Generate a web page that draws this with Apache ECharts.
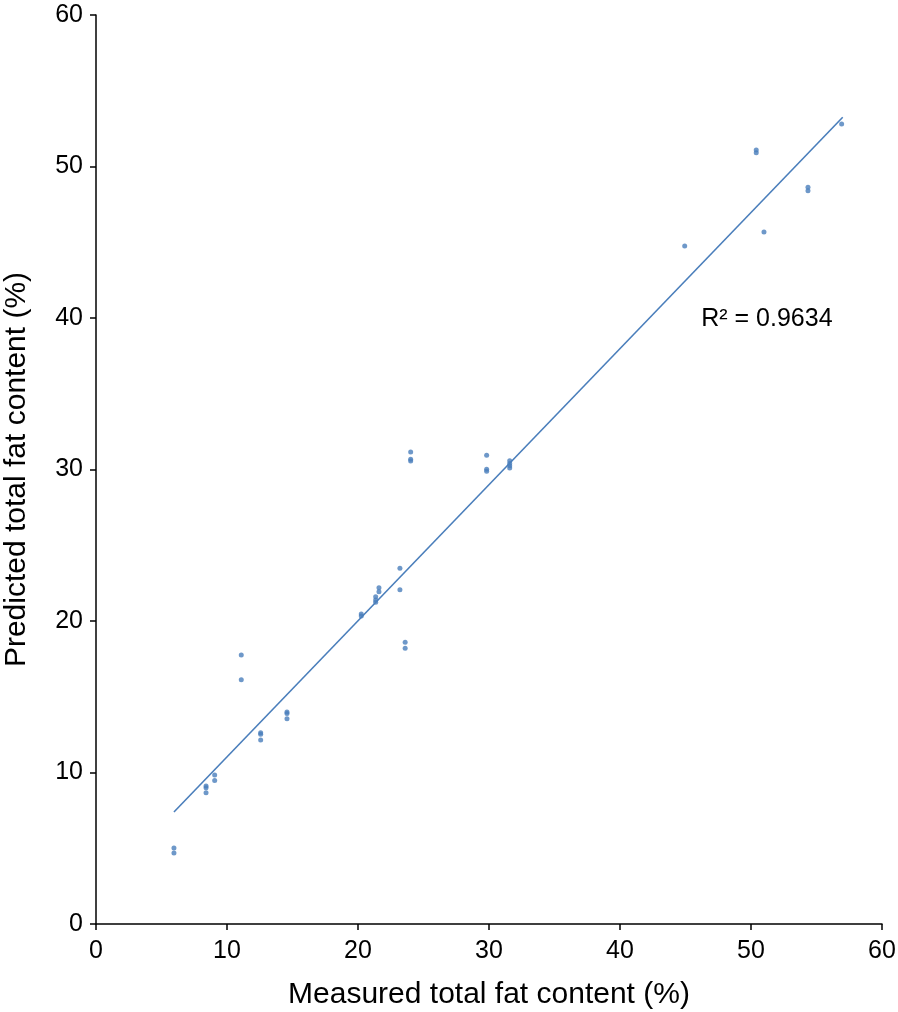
<!DOCTYPE html>
<html><head><meta charset="utf-8">
<script src="https://cdn.jsdelivr.net/npm/echarts@6/dist/echarts.min.js"></script>
<style>html,body{margin:0;padding:0;background:#fff}#c{width:898px;height:1012px}</style>
</head><body><div id="c"></div>
<script>
var measured = [11.09,11.09,14.58,14.58,14.58,12.57,12.57,12.57,9.06,9.06,8.4,8.4,8.4,5.95,5.95,
  24.02,24.02,24.02,29.82,29.82,29.82,31.58,31.58,31.58,31.58,23.2,23.2,21.6,21.6,21.35,21.35,21.35,20.25,20.25,23.6,23.6,
  50.4,50.4,54.35,54.35,56.92,50.99,44.94];
var predicted = [17.76,16.13,13.99,13.9,13.55,12.63,12.52,12.15,9.83,9.48,9.11,9.0,8.67,5.02,4.69,
  31.15,30.67,30.56,30.94,30.01,29.88,30.58,30.4,30.25,30.1,23.48,22.07,22.2,21.93,21.6,21.39,21.23,20.46,20.33,18.6,18.2,
  51.09,50.91,48.63,48.4,52.8,45.68,44.75];
var trendX = [5.95, 57.0];
var trendY = [7.39, 53.25];
var xTicks = [0,10,20,30,40,50,60];
var yTicks = [0,10,20,30,40,50,60];
var r2Label = 'R² = 0.9634';

var pts = measured.map(function(v,i){return [v, predicted[i]];});
var line = trendX.map(function(v,i){return [v, trendY[i]];});
var FONT = 'Liberation Sans';
var chart = echarts.init(document.getElementById('c'));
chart.setOption({
  animation:false,
  backgroundColor:'#fff',
  textStyle:{fontFamily:FONT},
  grid:{left:96,right:16,top:15,bottom:88,containLabel:false,outerBoundsMode:'none'},
  xAxis:{
    type:'value', min:0, max:60, interval:10,
    axisLine:{show:true,lineStyle:{color:'#000',width:1.5}},
    axisTick:{show:true,inside:false,length:6,lineStyle:{color:'#000',width:1.5}},
    splitLine:{show:false},
    axisLabel:{show:true,color:'#000',fontSize:25,fontFamily:FONT,margin:15,
      formatter:function(v){return xTicks.indexOf(v)>=0?String(v):'';}},
    name:'Measured total fat content (%)', nameLocation:'middle', nameGap:56,
    nameTextStyle:{color:'#000',fontSize:30,fontFamily:FONT}
  },
  yAxis:{
    type:'value', min:0, max:60, interval:10,
    axisLine:{show:true,lineStyle:{color:'#000',width:1.5}},
    axisTick:{show:true,inside:false,length:6,lineStyle:{color:'#000',width:1.5}},
    splitLine:{show:false},
    axisLabel:{show:true,color:'#000',fontSize:25,fontFamily:FONT,margin:13,
      formatter:function(v){return yTicks.indexOf(v)>=0?String(v):'';}},
    name:'Predicted total fat content (%)', nameLocation:'middle', nameGap:64,
    nameTextStyle:{color:'#000',fontSize:30,fontFamily:FONT}
  },
  series:[
    {type:'line', data:line, symbol:'none', lineStyle:{color:'#4a7ebb',width:1.6}, z:2,
     markPoint:{symbol:'rect',symbolSize:0,data:[{coord:[46.2,39.9],label:{show:true,formatter:r2Label,color:'#000',fontSize:25,fontFamily:FONT,position:'right',distance:0}}]}},
    {type:'scatter', data:pts, symbol:'circle', symbolSize:5, itemStyle:{color:'#4a7ebb'}, z:3}
  ]
});
</script></body></html>
